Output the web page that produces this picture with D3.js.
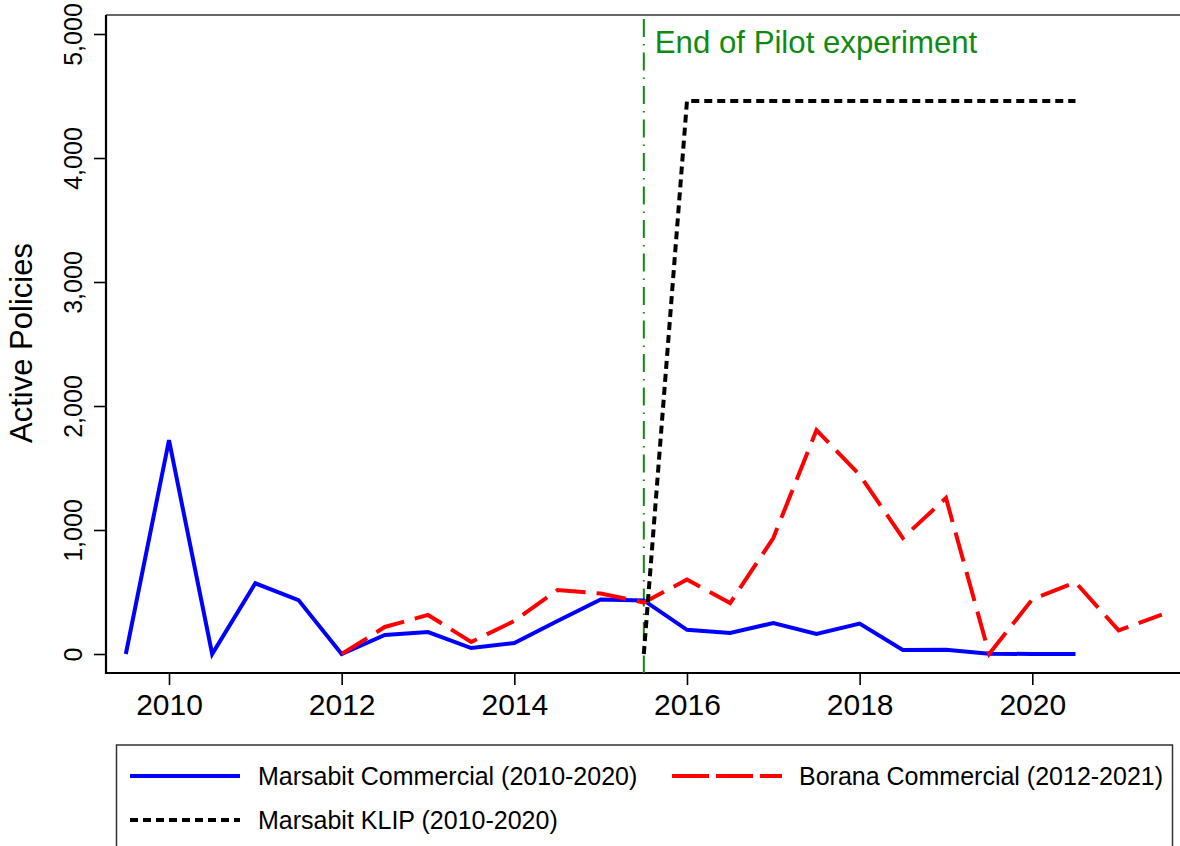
<!DOCTYPE html>
<html>
<head>
<meta charset="utf-8">
<script src="https://cdn.jsdelivr.net/npm/d3@7"></script>
<style>
  html, body { margin: 0; padding: 0; background: #fff; }
  svg { display: block; font-family: "Liberation Sans", Arial, Helvetica, sans-serif; }
</style>
</head>
<body>
<svg id="chart" width="1180" height="846"></svg>
<script>
// ---- Data ----
const marsabitYears = [2009.5, 2010, 2010.5, 2011, 2011.5, 2012, 2012.5, 2013, 2013.5, 2014, 2014.5, 2015, 2015.5, 2016, 2016.5, 2017, 2017.5, 2018, 2018.5, 2019, 2019.5, 2020, 2020.5];
const marsabitCommercial = [0, 1725, 0, 570, 435, 0, 153, 177, 48, 89, 266, 440, 432, 195, 170, 250, 162, 245, 32, 35, 3, 0, 0];

const boranaYears = [2012, 2012.5, 2013, 2013.5, 2014, 2014.5, 2015, 2015.5, 2016, 2016.5, 2017, 2017.5, 2018, 2018.5, 2019, 2019.5, 2020, 2020.5, 2021, 2021.5];
const boranaCommercial = [0, 218, 315, 97, 266, 516, 488, 415, 600, 411, 935, 1806, 1444, 935, 1258, 0, 441, 578, 190, 318];

const klipYears = [2015.5, 2016, 2016.5, 2017, 2017.5, 2018, 2018.5, 2019, 2019.5, 2020, 2020.5];
const klipValues = [0, 4460, 4460, 4460, 4460, 4460, 4460, 4460, 4460, 4460, 4460];

const xTicks = [2010, 2012, 2014, 2016, 2018, 2020];
const yTicks = [0, 1000, 2000, 3000, 4000, 5000];
const pilotEnd = 2015.5;
const pilotLabel = "End of Pilot experiment";
const yTitle = "Active Policies";
const legendLabels = ["Marsabit Commercial (2010-2020)", "Borana Commercial (2012-2021)", "Marsabit KLIP (2010-2020)"];

// ---- Layout ----
const svg = d3.select("#chart");
const plot = { left: 106, right: 1182, top: 15, bottom: 673 };
const x = d3.scaleLinear().domain([2010, 2020]).range([169, 1032.3]);
const y = d3.scaleLinear().domain([0, 5000]).range([654, 34]);

// frame top line
svg.append("line").attr("x1", plot.left).attr("x2", plot.right)
  .attr("y1", plot.top).attr("y2", plot.top)
  .attr("stroke", "#333").attr("stroke-width", 1.6);

// Y axis
const yAxis = svg.append("g").attr("transform", `translate(${plot.left},0)`)
  .call(d3.axisLeft(y).tickValues(yTicks).tickFormat(d3.format(",")).tickSize(12).tickSizeOuter(0));
yAxis.select(".domain").remove();
yAxis.append("line").attr("x1", 0).attr("x2", 0).attr("y1", plot.top).attr("y2", plot.bottom + 1)
  .attr("stroke", "#000").attr("stroke-width", 2.2);
yAxis.selectAll(".tick line").attr("stroke", "#000").attr("stroke-width", 1.6);
yAxis.selectAll(".tick text")
  .attr("font-size", 25).attr("fill", "#000")
  .attr("transform", "rotate(-90)")
  .attr("x", 0).attr("y", -24).attr("dy", 0)
  .attr("text-anchor", "middle");

// X axis
const xAxis = svg.append("g").attr("transform", `translate(0,${plot.bottom})`)
  .call(d3.axisBottom(x).tickValues(xTicks).tickFormat(d3.format("d")).tickSize(12).tickSizeOuter(0));
xAxis.select(".domain").remove();
xAxis.append("line").attr("x1", plot.left - 1).attr("x2", plot.right).attr("y1", 0).attr("y2", 0)
  .attr("stroke", "#000").attr("stroke-width", 2.2);
xAxis.selectAll(".tick line").attr("stroke", "#000").attr("stroke-width", 1.6);
xAxis.selectAll(".tick text").attr("font-size", 30).attr("fill", "#000").attr("y", 21).attr("dy", "0.71em");

// Y title
svg.append("text")
  .attr("transform", `translate(32,343) rotate(-90)`)
  .attr("text-anchor", "middle")
  .attr("font-size", 31).attr("fill", "#000")
  .text(yTitle);

// Pilot end line
svg.append("line")
  .attr("x1", x(pilotEnd)).attr("x2", x(pilotEnd))
  .attr("y1", plot.top + 4).attr("y2", plot.bottom)
  .attr("stroke", "#108a10").attr("stroke-width", 2)
  .attr("stroke-dasharray", "18,7,1.5,7");
svg.append("text")
  .attr("x", x(pilotEnd) + 11).attr("y", 53)
  .attr("font-size", 31.2).attr("fill", "#108a10")
  .text(pilotLabel);

// Lines
const line = d3.line().x(d => x(d[0])).y(d => y(d[1])).curve(d3.curveLinear);
const zip = (a, b) => a.map((v, i) => [v, b[i]]);

svg.append("path").datum(zip(marsabitYears, marsabitCommercial))
  .attr("d", line).attr("fill", "none").attr("stroke", "#0000ff")
  .attr("stroke-width", 4).attr("stroke-linejoin", "miter");

svg.append("path").datum(zip(boranaYears, boranaCommercial))
  .attr("d", line).attr("fill", "none").attr("stroke", "#ff0000")
  .attr("stroke-width", 4).attr("stroke-dasharray", "30,11");

svg.append("path").datum(zip(klipYears, klipValues))
  .attr("d", line).attr("fill", "none").attr("stroke", "#000")
  .attr("stroke-width", 4).attr("stroke-dasharray", "8,5");

// Legend
svg.append("rect").attr("x", 116.5).attr("y", 745).attr("width", 1056).attr("height", 130)
  .attr("fill", "none").attr("stroke", "#333").attr("stroke-width", 1.5);

const legendItems = [
  { label: legendLabels[0], color: "#0000ff", dash: null, lx: 130, lw: 110, tx: 258, cy: 776 },
  { label: legendLabels[1], color: "#ff0000", dash: "37,7", lx: 672, lw: 110, tx: 799, cy: 776 },
  { label: legendLabels[2], color: "#000", dash: "8,5", lx: 130, lw: 110, tx: 258, cy: 820 }
];
const lg = svg.append("g");
legendItems.forEach(it => {
  lg.append("line").attr("x1", it.lx).attr("x2", it.lx + it.lw)
    .attr("y1", it.cy).attr("y2", it.cy)
    .attr("stroke", it.color).attr("stroke-width", 4)
    .attr("stroke-dasharray", it.dash);
  lg.append("text").attr("x", it.tx).attr("y", it.cy + 9)
    .attr("font-size", 25).attr("fill", "#000").text(it.label);
});
</script>
</body>
</html>
